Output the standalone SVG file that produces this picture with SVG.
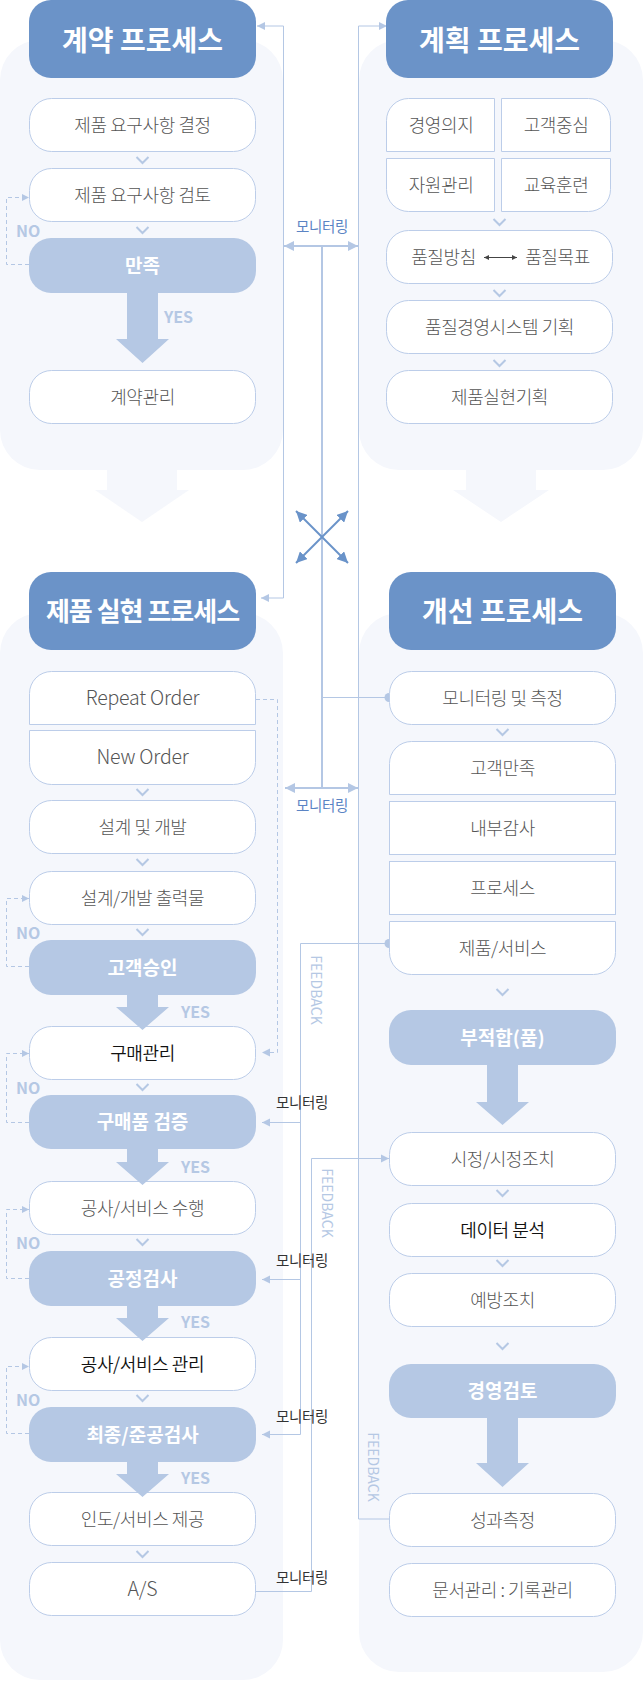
<svg xmlns="http://www.w3.org/2000/svg" width="643" height="1683" viewBox="0 0 643 1683">
<style>
text{font-family:"Noto Sans CJK KR","Noto Sans",sans-serif}
.panel{fill:#f5f7fc}
.hdr{fill:#6b93c8}
.box{fill:#fff;stroke:#bccde9;stroke-width:1}
.dec{fill:#b5c8e4}
.big{fill:#b5c8e4}
.fade{fill:#f5f7fc}
.ht{fill:#fff;font-size:28px;font-weight:700;text-anchor:middle}
.t{fill:#555;font-size:18px;font-weight:300;text-anchor:middle;letter-spacing:-0.4px}
.lat{font-size:19.5px;letter-spacing:-0.2px}
.tk{fill:#111;font-weight:350}
.dt{fill:#fff;font-size:19px;font-weight:700;text-anchor:middle}
.yn{fill:#b5c8e4;font-size:16px;font-weight:700}
.mon{fill:#333;font-size:14.5px;letter-spacing:-0.3px}
.monb{fill:#5b84c4;font-size:14.5px;text-anchor:middle;letter-spacing:-0.3px}
.fb{fill:#b5c8e4;font-size:14px;text-anchor:middle}
.ln{fill:none;stroke:#b4c7e4;stroke-width:1}
.ln2{fill:none;stroke:#b4c7e4;stroke-width:2}
.dash{fill:none;stroke:#b4c7e4;stroke-width:1;stroke-dasharray:4 3}
.xl{fill:none;stroke:#6a93c9;stroke-width:2}
</style>
<defs>
<marker id="ah" viewBox="0 0 10 10" refX="10" refY="5" markerWidth="8" markerHeight="10" markerUnits="userSpaceOnUse" orient="auto-start-reverse"><path d="M0,0 L10,5 L0,10 z" fill="#b4c7e4"/></marker>
<marker id="ahb" viewBox="0 0 10 10" refX="10" refY="5" markerWidth="10" markerHeight="12" markerUnits="userSpaceOnUse" orient="auto-start-reverse"><path d="M0,0 L10,5 L0,10 z" fill="#b4c7e4"/></marker>
<marker id="ahs" viewBox="0 0 10 10" refX="10" refY="5" markerWidth="7" markerHeight="8" markerUnits="userSpaceOnUse" orient="auto-start-reverse"><path d="M0,0 L10,5 L0,10 z" fill="#b4c7e4"/></marker>
<marker id="ahd" viewBox="0 0 10 10" refX="10" refY="5" markerWidth="11" markerHeight="11" markerUnits="userSpaceOnUse" orient="auto-start-reverse"><path d="M0,0 L10,5 L0,10 z" fill="#6a93c9"/></marker>
<marker id="ahk" viewBox="0 0 10 10" refX="10" refY="5" markerWidth="6" markerHeight="5" markerUnits="userSpaceOnUse" orient="auto-start-reverse"><path d="M0,0 L10,5 L0,10 z" fill="#444"/></marker>
<path id="chev" d="M-6,-3 L0,3 L6,-3" fill="none" stroke="#b5c8e4" stroke-width="2"/>
</defs>

<!-- panels -->
<g id="panels">
<rect class="panel" x="0" y="40" width="283" height="430" rx="40"/>
<rect class="panel" x="359" y="40" width="284" height="430" rx="40"/>
<rect class="panel" x="0" y="613" width="283" height="1067" rx="40"/>
<rect class="panel" x="359" y="613" width="284" height="1059" rx="40"/>
<polygon class="fade" points="107,469 177,469 177,490 189,490 142,522 95,490 107,490"/>
<polygon class="fade" points="466,469 536,469 536,490 549,490 501,522 453,490 466,490"/>
</g>

<!-- connectors -->
<g id="connectors">
<path class="ln" d="M257,26 H283.5 V598 H261" marker-start="url(#ah)" marker-end="url(#ah)"/>
<path class="ln" d="M387,26 H358.5 V1519 H389" marker-start="url(#ah)"/>
<path class="ln2" d="M322,246 V788"/>
<path class="ln2" d="M284,246 H358" marker-start="url(#ahb)" marker-end="url(#ahb)"/>
<path class="ln2" d="M285,788 H358" marker-start="url(#ahb)" marker-end="url(#ahb)"/>
<path class="ln" d="M322,697.5 H389"/>
<circle cx="389" cy="697.5" r="4.5" fill="#b4c7e4"/>
<path class="xl" d="M322,537 L296,511" marker-end="url(#ahd)"/>
<path class="xl" d="M322,537 L348,511" marker-end="url(#ahd)"/>
<path class="xl" d="M322,537 L296,563" marker-end="url(#ahd)"/>
<path class="xl" d="M322,537 L348,563" marker-end="url(#ahd)"/>
<path class="ln" d="M389,943.5 H300.5 V1434.5 H262" marker-end="url(#ah)"/>
<circle cx="389" cy="943.5" r="4.5" fill="#b4c7e4"/>
<path class="ln" d="M300.5,1122.5 H262" marker-end="url(#ah)"/>
<path class="ln" d="M300.5,1279.5 H262" marker-end="url(#ah)"/>
<path class="ln" d="M256,1591.5 H311.5 V1158.5 H389" marker-end="url(#ah)"/>
<path class="dash" d="M256,699.5 H277.5 V1052.5 H262" marker-end="url(#ah)"/>
<path class="dash" d="M29,264.5 H6.5 V197.5 H29" marker-end="url(#ahs)"/>
<path class="dash" d="M29,966.5 H6.5 V898.5 H29" marker-end="url(#ahs)"/>
<path class="dash" d="M29,1122.5 H6.5 V1053.5 H29" marker-end="url(#ahs)"/>
<path class="dash" d="M29,1278.5 H6.5 V1209.5 H29" marker-end="url(#ahs)"/>
<path class="dash" d="M29,1433.5 H6.5 V1366.5 H29" marker-end="url(#ahs)"/>
<text class="monb" x="322" y="232">모니터링</text>
<text class="monb" x="322" y="811">모니터링</text>
<text class="mon" x="276" y="1108">모니터링</text>
<text class="mon" x="276" y="1266">모니터링</text>
<text class="mon" x="276" y="1422">모니터링</text>
<text class="mon" x="276" y="1583">모니터링</text>
<text class="fb" transform="translate(316,990) rotate(90)" dy="5">FEEDBACK</text>
<text class="fb" transform="translate(327,1203) rotate(90)" dy="5">FEEDBACK</text>
<text class="fb" transform="translate(373,1467) rotate(90)" dy="5">FEEDBACK</text>
<text class="yn" x="164" y="323">YES</text>
<text class="yn" x="181" y="1018">YES</text>
<text class="yn" x="181" y="1173">YES</text>
<text class="yn" x="181" y="1328">YES</text>
<text class="yn" x="181" y="1484">YES</text>
<text class="yn" x="16" y="237">NO</text>
<text class="yn" x="16" y="939">NO</text>
<text class="yn" x="16" y="1094">NO</text>
<text class="yn" x="16" y="1249">NO</text>
<text class="yn" x="16" y="1406">NO</text>
</g>

<!-- contract process -->
<g id="n-contract-hdr"><rect class="hdr" x="29" y="0" width="227" height="78" rx="22"/><text class="ht" x="142.5" y="50.5">계약 프로세스</text></g>
<g id="n-c1"><rect class="box" x="29.5" y="98.5" width="226" height="53" rx="22"/><text class="t" x="142.5" y="132">제품 요구사항 결정</text></g>
<use href="#chev" x="142.5" y="160"/>
<g id="n-c2"><rect class="box" x="29.5" y="168.5" width="226" height="53" rx="22"/><text class="t" x="142.5" y="202">제품 요구사항 검토</text></g>
<use href="#chev" x="142.5" y="230"/>
<g id="n-c3"><rect class="dec" x="29" y="238" width="227" height="55" rx="22"/><text class="dt" x="142.5" y="272.5">만족</text></g>
<g id="n-c4"><rect class="box" x="29.5" y="370.5" width="226" height="53" rx="22"/><text class="t" x="142.5" y="404">계약관리</text></g>
<polygon class="big" points="127,292 158,292 158,339 169,339 142.5,363 116,339 127,339"/>

<!-- planning process -->
<g id="n-plan-hdr"><rect class="hdr" x="386" y="0" width="227" height="78" rx="22"/><text class="ht" x="499.5" y="50.5">계획 프로세스</text></g>
<g id="n-p1"><path class="box" d="M386.5,151.5 V120.5 A22,22 0 0 1 408.5,98.5 H494.5 V151.5 Z"/><text class="t" x="441" y="132">경영의지</text></g>
<g id="n-p2"><path class="box" d="M501.5,98.5 H588.5 A22,22 0 0 1 610.5,120.5 V151.5 H501.5 Z"/><text class="t" x="556" y="132">고객중심</text></g>
<g id="n-p3"><path class="box" d="M386.5,158.5 H494.5 V211.5 H408.5 A22,22 0 0 1 386.5,189.5 Z"/><text class="t" x="441" y="192">자원관리</text></g>
<g id="n-p4"><path class="box" d="M501.5,158.5 H610.5 V189.5 A22,22 0 0 1 588.5,211.5 H501.5 Z"/><text class="t" x="556" y="192">교육훈련</text></g>
<use href="#chev" x="499.5" y="222"/>
<g id="n-p5"><rect class="box" x="386.5" y="230.5" width="226" height="53" rx="22"/><text class="t" x="443.5" y="264">품질방침</text><text class="t" x="557.5" y="264">품질목표</text><path d="M484,257.5 H517" fill="none" stroke="#444" stroke-width="1" marker-start="url(#ahk)" marker-end="url(#ahk)"/></g>
<use href="#chev" x="499.5" y="293"/>
<g id="n-p6"><rect class="box" x="386.5" y="300.5" width="226" height="53" rx="22"/><text class="t" x="499.5" y="334">품질경영시스템 기획</text></g>
<use href="#chev" x="499.5" y="363"/>
<g id="n-p7"><rect class="box" x="386.5" y="370.5" width="226" height="53" rx="22"/><text class="t" x="499.5" y="404">제품실현기획</text></g>

<!-- product realization -->
<g id="n-real-hdr"><rect class="hdr" x="29" y="572" width="227" height="78" rx="22"/><text class="ht" x="142.5" y="621" style="font-size:26px;letter-spacing:-1px">제품 실현 프로세스</text></g>
<g id="n-r1"><path class="box" d="M29.5,724.5 V693.5 A22,22 0 0 1 51.5,671.5 H233.5 A22,22 0 0 1 255.5,693.5 V724.5 Z"/><text class="t lat" x="142.5" y="704.5">Repeat Order</text></g>
<g id="n-r2"><path class="box" d="M29.5,730.5 H255.5 V762.5 A22,22 0 0 1 233.5,784.5 H51.5 A22,22 0 0 1 29.5,762.5 Z"/><text class="t lat" x="142.5" y="763.5">New Order</text></g>
<use href="#chev" x="142.5" y="792"/>
<g id="n-r3"><rect class="box" x="29.5" y="800.5" width="226" height="53" rx="22"/><text class="t" x="142.5" y="834">설계 및 개발</text></g>
<use href="#chev" x="142.5" y="862"/>
<g id="n-r4"><rect class="box" x="29.5" y="871.5" width="226" height="53" rx="22"/><text class="t" x="142.5" y="905">설계/개발 출력물</text></g>
<use href="#chev" x="142.5" y="932"/>
<g id="n-r5"><rect class="dec" x="29" y="940" width="227" height="55" rx="22"/><text class="dt" x="142.5" y="974.5">고객승인</text></g>
<g id="n-r6"><rect class="box" x="29.5" y="1026.5" width="226" height="53" rx="22"/><text class="t tk" x="142.5" y="1060">구매관리</text></g>
<polygon class="big" points="127,994 158,994 158,1007 169,1007 142.5,1030 116,1007 127,1007"/>
<use href="#chev" x="142.5" y="1087"/>
<g id="n-r7"><rect class="dec" x="29" y="1095" width="227" height="54" rx="22"/><text class="dt" x="142.5" y="1129">구매품 검증</text></g>
<g id="n-r8"><rect class="box" x="29.5" y="1181.5" width="226" height="53" rx="22"/><text class="t" x="142.5" y="1215">공사/서비스 수행</text></g>
<polygon class="big" points="127,1148 158,1148 158,1162 169,1162 142.5,1185 116,1162 127,1162"/>
<use href="#chev" x="142.5" y="1242"/>
<g id="n-r9"><rect class="dec" x="29" y="1251" width="227" height="55" rx="22"/><text class="dt" x="142.5" y="1285.5">공정검사</text></g>
<g id="n-r10"><rect class="box" x="29.5" y="1337.5" width="226" height="53" rx="22"/><text class="t tk" x="142.5" y="1371">공사/서비스 관리</text></g>
<polygon class="big" points="127,1305 158,1305 158,1318 169,1318 142.5,1341 116,1318 127,1318"/>
<use href="#chev" x="142.5" y="1398"/>
<g id="n-r11"><rect class="dec" x="29" y="1407" width="227" height="55" rx="22"/><text class="dt" x="142.5" y="1441.5">최종/준공검사</text></g>
<g id="n-r12"><rect class="box" x="29.5" y="1492.5" width="226" height="53" rx="22"/><text class="t" x="142.5" y="1526">인도/서비스 제공</text></g>
<polygon class="big" points="127,1461 158,1461 158,1474 169,1474 142.5,1497 116,1474 127,1474"/>
<use href="#chev" x="142.5" y="1554"/>
<g id="n-r13"><rect class="box" x="29.5" y="1562.5" width="226" height="53" rx="22"/><text class="t lat" x="142.5" y="1596">A/S</text></g>

<!-- improvement -->
<g id="n-imp-hdr"><rect class="hdr" x="389" y="572" width="227" height="78" rx="22"/><text class="ht" x="502.5" y="621.5">개선 프로세스</text></g>
<g id="n-i1"><rect class="box" x="389.5" y="671.5" width="226" height="53" rx="22"/><text class="t" x="502.5" y="705">모니터링 및 측정</text></g>
<use href="#chev" x="502.5" y="732"/>
<g id="n-i2"><path class="box" d="M389.5,794.5 V763.5 A22,22 0 0 1 411.5,741.5 H593.5 A22,22 0 0 1 615.5,763.5 V794.5 Z"/><text class="t" x="502.5" y="775">고객만족</text></g>
<g id="n-i3"><rect class="box" x="389.5" y="801.5" width="226" height="53"/><text class="t" x="502.5" y="835">내부감사</text></g>
<g id="n-i4"><rect class="box" x="389.5" y="861.5" width="226" height="53"/><text class="t" x="502.5" y="895">프로세스</text></g>
<g id="n-i5"><path class="box" d="M389.5,921.5 H615.5 V952.5 A22,22 0 0 1 593.5,974.5 H411.5 A22,22 0 0 1 389.5,952.5 Z"/><text class="t" x="502.5" y="955">제품/서비스</text></g>
<use href="#chev" x="502.5" y="992"/>
<g id="n-i6"><rect class="dec" x="389" y="1010" width="227" height="55" rx="22"/><text class="dt" x="502.5" y="1044.5">부적합(품)</text></g>
<g id="n-i7"><rect class="box" x="389.5" y="1132.5" width="226" height="53" rx="22"/><text class="t" x="502.5" y="1166">시정/시정조치</text></g>
<polygon class="big" points="487,1064 518,1064 518,1102 529,1102 502.5,1125 476,1102 487,1102"/>
<use href="#chev" x="502.5" y="1193"/>
<g id="n-i8"><rect class="box" x="389.5" y="1203.5" width="226" height="53" rx="22"/><text class="t tk" x="502.5" y="1237">데이터 분석</text></g>
<use href="#chev" x="502.5" y="1263"/>
<g id="n-i9"><rect class="box" x="389.5" y="1273.5" width="226" height="53" rx="22"/><text class="t" x="502.5" y="1307">예방조치</text></g>
<use href="#chev" x="502.5" y="1346"/>
<g id="n-i10"><rect class="dec" x="389" y="1364" width="227" height="54" rx="22"/><text class="dt" x="502.5" y="1398">경영검토</text></g>
<g id="n-i11"><rect class="box" x="389.5" y="1493.5" width="226" height="53" rx="22"/><text class="t" x="502.5" y="1527">성과측정</text></g>
<polygon class="big" points="487,1417 518,1417 518,1463 529,1463 502.5,1487 476,1463 487,1463"/>
<g id="n-i12"><rect class="box" x="389.5" y="1563.5" width="226" height="53" rx="22"/><text class="t" x="502.5" y="1597">문서관리 : 기록관리</text></g>
</svg>
